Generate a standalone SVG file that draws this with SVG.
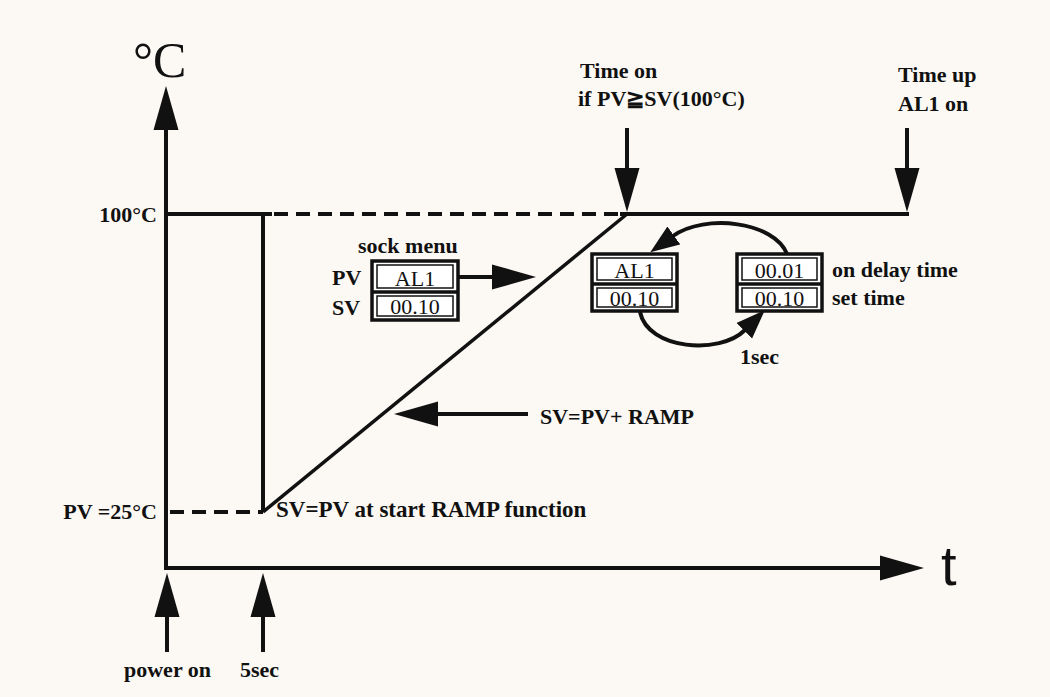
<svg xmlns="http://www.w3.org/2000/svg" width="1050" height="697" viewBox="0 0 1050 697">
<style>
.ln{stroke:#111;stroke-width:4;fill:none}
.rp{stroke:#111;stroke-width:3.5;fill:none}
.ds{stroke:#111;stroke-width:4;fill:none;stroke-dasharray:14 8}
.ar{stroke:#111;stroke-width:4;fill:none;marker-end:url(#ah)}
.lp{stroke:#111;stroke-width:4;fill:none;marker-end:url(#ahs)}
.t{font-family:"Liberation Serif","DejaVu Serif",serif;font-weight:bold;font-size:22px;fill:#111}
.bt{font-family:"Liberation Serif","DejaVu Serif",serif;font-size:22px;fill:#111;text-anchor:middle}
.bo{stroke:#111;stroke-width:3.5;fill:#fff}
.bi{stroke:#111;stroke-width:1.5;fill:none}
</style>
<defs>
<marker id="ah" markerUnits="userSpaceOnUse" viewBox="0 -13 45 26" markerWidth="45" markerHeight="26" refX="1" refY="0" orient="auto">
<path d="M0,-12.5 L44,0 L0,12.5 Z" fill="#111"/>
</marker>
<marker id="ahs" markerUnits="userSpaceOnUse" viewBox="0 -12 30 24" markerWidth="30" markerHeight="24" refX="1" refY="0" orient="auto">
<path d="M0,-11 L29,0 L0,11 Z" fill="#111"/>
</marker>
</defs>
<rect width="1050" height="697" fill="#fcf9f4"/>

<g id="axes">
<line class="ar" x1="166" y1="570" x2="166" y2="129"/>
<line class="ar" x1="164" y1="568" x2="881" y2="568"/>
<text x="133" y="77" style="font-family:'Liberation Serif','DejaVu Serif',serif;font-size:50px;fill:#111">°C</text>
<text x="941" y="585" style="font-family:'Liberation Sans','DejaVu Sans',sans-serif;font-size:56px;fill:#111">t</text>
<text class="t" x="157" y="222" text-anchor="end">100°C</text>
<text class="t" x="157" y="519" text-anchor="end">PV =25°C</text>
</g>

<g id="curve">
<line class="ln" x1="166" y1="214" x2="272" y2="214"/>
<line class="ds" x1="274" y1="214" x2="620" y2="214"/>
<line class="ln" x1="620" y1="214" x2="909" y2="214"/>
<line class="ln" x1="263" y1="212" x2="263" y2="512"/>
<line class="ds" x1="170" y1="512" x2="263" y2="512"/>
<line class="rp" x1="263" y1="512" x2="627" y2="214"/>
</g>

<g id="connectors">
<line class="ar" x1="627" y1="128" x2="627" y2="169"/>
<line class="ar" x1="907" y1="128" x2="907" y2="169"/>
<line class="ar" x1="167" y1="652" x2="167" y2="616"/>
<line class="ar" x1="263" y1="652" x2="263" y2="616"/>
<line class="ar" x1="458" y1="277" x2="493" y2="277"/>
<line class="ar" x1="528" y1="414" x2="437" y2="414"/>
<path class="lp" d="M787,254 C775,222 705,213 673,236"/>
<path class="lp" d="M640,312 C648,350 720,355 745,330"/>
</g>

<g id="labels">
<text class="t" x="580" y="78">Time on</text>
<text class="t" x="578" y="106">if PV≧SV(100°C)</text>
<text class="t" x="898" y="82">Time up</text>
<text class="t" x="898" y="111">AL1  on</text>
<text class="t" x="540" y="424">SV=PV+ RAMP</text>
<text class="t" x="276" y="517" style="font-size:23px">SV=PV at start RAMP function</text>
<text class="t" x="124" y="677">power on</text>
<text class="t" x="240" y="677">5sec</text>
<text class="t" x="740" y="364">1sec</text>
</g>

<g id="sock-menu">
<text class="t" x="358" y="253">sock menu</text>
<text class="t" x="332" y="285">PV</text>
<text class="t" x="332" y="315">SV</text>
<rect class="bo" x="372" y="261" width="86" height="59"/>
<line class="ln" x1="372" y1="292" x2="458" y2="292" style="stroke-width:3.5"/>
<rect class="bi" x="377" y="265" width="76" height="23"/>
<rect class="bi" x="377" y="296" width="76" height="20"/>
<text class="bt" x="415" y="286">AL1</text>
<text class="bt" x="415" y="314">00.10</text>
</g>

<g id="display-al1">
<rect class="bo" x="592" y="254" width="85" height="57"/>
<line class="ln" x1="592" y1="284" x2="677" y2="284" style="stroke-width:3.5"/>
<rect class="bi" x="597" y="258" width="75" height="22"/>
<rect class="bi" x="597" y="288" width="75" height="19"/>
<text class="bt" x="634.5" y="278">AL1</text>
<text class="bt" x="634.5" y="306">00.10</text>
</g>

<g id="display-time">
<rect class="bo" x="737" y="254" width="85" height="57"/>
<line class="ln" x1="737" y1="284" x2="822" y2="284" style="stroke-width:3.5"/>
<rect class="bi" x="742" y="258" width="75" height="22"/>
<rect class="bi" x="742" y="288" width="75" height="19"/>
<text class="bt" x="779.5" y="278">00.01</text>
<text class="bt" x="779.5" y="306">00.10</text>
<text class="t" x="832" y="277">on delay time</text>
<text class="t" x="832" y="305">set time</text>
</g>
</svg>
